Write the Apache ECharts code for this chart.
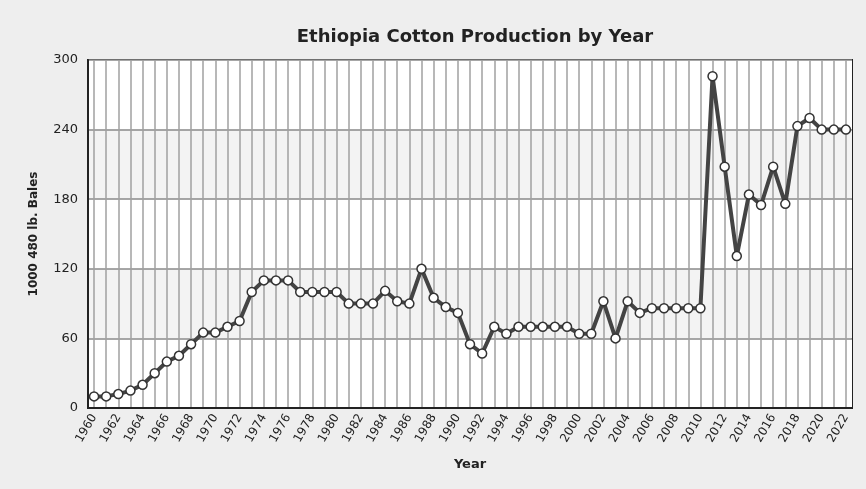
<!DOCTYPE html>
<html>
<head>
<meta charset="utf-8">
<script src="https://cdn.jsdelivr.net/npm/echarts@6/dist/echarts.min.js"></script>
<style>
  html, body { margin: 0; padding: 0; background: #eeeeee; }
  #chart { width: 866px; height: 489px; }
</style>
</head>
<body>
<div id="chart"></div>
<script>
  // years 1960 - 2022
  var years = []
  for (var y = 1960; y <= 2022; y++) years.push(String(y))

  // production, 1000 480 lb. bales
  var production = [
    10, 10, 12, 15, 20, 30, 40, 45, 55, 65,
    65, 70, 75, 100, 110, 110, 110, 100, 100, 100,
    100, 90, 90, 90, 101, 92, 90, 120, 95, 87,
    82, 55, 47, 70, 64, 70, 70, 70, 70, 70,
    64, 64, 92, 60, 92, 82, 86, 86, 86, 86,
    86, 286, 208, 131, 184, 175, 208, 176, 243, 250,
    240, 240, 240
  ]

  var yTicks = [0, 60, 120, 180, 240, 300]

  var chart = echarts.init(document.getElementById('chart'))
  var options = {
    backgroundColor: '#eeeeee',
    title: {
      text: 'Ethiopia Cotton Production by Year',
      left: 470,
      textAlign: 'center',
      top: 23,
      textStyle: {
        fontFamily: 'DejaVu Sans',
        fontWeight: 'bold',
        fontSize: 18,
        color: '#222'
      }
    },
    grid: {
      left: 88,
      right: 14,
      top: 60,
      bottom: 81,
      show: true,
      borderColor: '#222',
      borderWidth: 2,
      backgroundColor: '#fff'
    },
    xAxis: {
      type: 'category',
      data: years,
      boundaryGap: true,
      name: 'Year',
      nameLocation: 'middle',
      nameGap: 50,
      nameTextStyle: {
        fontFamily: 'DejaVu Sans',
        fontWeight: 'bold',
        fontSize: 13,
        color: '#222'
      },
      axisLine: { lineStyle: { color: '#222', width: 2 } },
      axisTick: { show: false },
      axisLabel: {
        interval: 1,
        rotate: 60,
        fontFamily: 'DejaVu Sans',
        fontSize: 12,
        color: '#222',
        margin: 7
      },
      splitLine: {
        show: true,
        interval: 0,
        alignWithLabel: true,
        lineStyle: { color: '#a0a0a0', width: 1.5 }
      }
    },
    yAxis: {
      type: 'value',
      min: 0,
      max: 300,
      interval: 60,
      name: '1000 480 lb. Bales',
      nameLocation: 'middle',
      nameGap: 48,
      nameRotate: 90,
      nameTextStyle: {
        fontFamily: 'DejaVu Sans',
        fontWeight: 'bold',
        fontSize: 12,
        color: '#222'
      },
      axisLine: { show: true, lineStyle: { color: '#222', width: 2 } },
      axisTick: { show: false },
      axisLabel: {
        fontFamily: 'DejaVu Sans',
        fontSize: 13,
        color: '#222',
        margin: 10,
        formatter: function(v) {
          return yTicks.indexOf(v) >= 0 ? String(v) : ''
        }
      },
      splitLine: { lineStyle: { color: '#8a8a8a', width: 1.5 } },
      splitArea: { show: true, areaStyle: { color: ['#ffffff', '#f3f3f3'] } }
    },
    series: [
      {
        type: 'line',
        data: production,
        symbol: 'circle',
        symbolSize: 9,
        showAllSymbol: true,
        lineStyle: { color: '#444', width: 4 },
        itemStyle: { color: '#fff', borderColor: '#333', borderWidth: 1.5 },
        z: 3
      }
    ]
  }
  chart.setOption(options)
</script>
</body>
</html>
